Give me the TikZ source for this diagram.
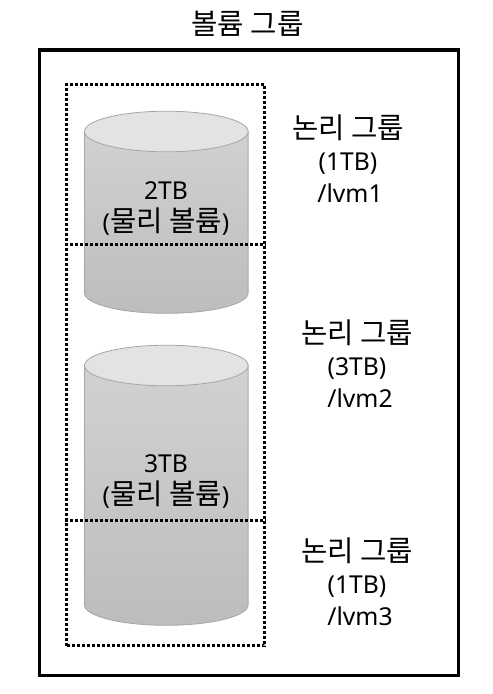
\documentclass[tikz,border=0pt]{standalone}
\usepackage{fontspec}
\setmainfont{Noto Sans}
\newfontfamily\korfont{Noto Sans CJK KR}
\usetikzlibrary{positioning}

\tikzset{
	frame/.style={draw=black,line width=2.4pt,minimum width=314.4pt,minimum height=469.4pt,inner sep=0pt},
	dotbox/.style={draw=black,line width=2.1pt,dash pattern=on 2.25pt off 1.5pt,minimum width=148.5pt,minimum height=420.75pt,inner sep=0pt},
	dotline/.style={black,line width=2.1pt,dash pattern=on 2.25pt off 1.5pt},
	body/.style={draw=black!35,line width=.6pt,top color=black!18,bottom color=black!26},
	lid/.style={draw=black!35,line width=.6pt,fill=black!11},
	txt/.style={align=center,font=\fontsize{18.5}{24}\selectfont,inner sep=0pt}
}

% hangul runs large next to the latin
\newcommand{\kor}[1]{{\korfont\fontsize{21.5}{24}\selectfont #1}}

% one disk: #1 top y, #2 bottom y (both are centres of the end ellipses)
\newcommand{\disk}[2]{
	\path[body] (84.5,#1) -- (84.5,#2) arc[start angle=180,end angle=0,x radius=81.8,y radius=20.3] -- (248.1,#1) -- cycle;
	\path[lid] (166.3,#1) ellipse[x radius=81.8,y radius=20.3];
}

\begin{document}
\begin{tikzpicture}[x=.75pt,y=-.75pt]

\useasboundingbox (0,0) rectangle (493,694);

\node[frame]   (group)   at (249.1,362.9) {};
\node[txt]     (title)   at (247.5,24)    {\kor{볼륨 그룹}};

\disk{131.5}{293}
\disk{365.5}{605}

\node[dotbox]  (lvbox)   at (165.5,365)   {};
\coordinate (cut1) at (0,244.5);
\coordinate (cut2) at (0,520.5);
\draw[dotline] (lvbox.west |- cut1) -- (lvbox.east |- cut1);
\draw[dotline] (lvbox.west |- cut2) -- (lvbox.east |- cut2);

\node[txt]     (pv1)     at (166,209)     {2TB\\(\kor{물리 볼륨})};
\node[txt]     (pv2)     at (166,482)     {3TB\\(\kor{물리 볼륨})};

\node[txt]     (lv1)     at (348,159)     {\kor{논리 그룹}\\(1TB)\\\hspace*{3pt}/lvm1};
\node[txt]     (lv2)     at (357,364)     {\kor{논리 그룹}\\(3TB)\\\hspace*{4.5pt}/lvm2};
\node[txt]     (lv3)     at (357,582)     {\kor{논리 그룹}\\(1TB)\\\hspace*{4.5pt}/lvm3};

\end{tikzpicture}
\end{document}
